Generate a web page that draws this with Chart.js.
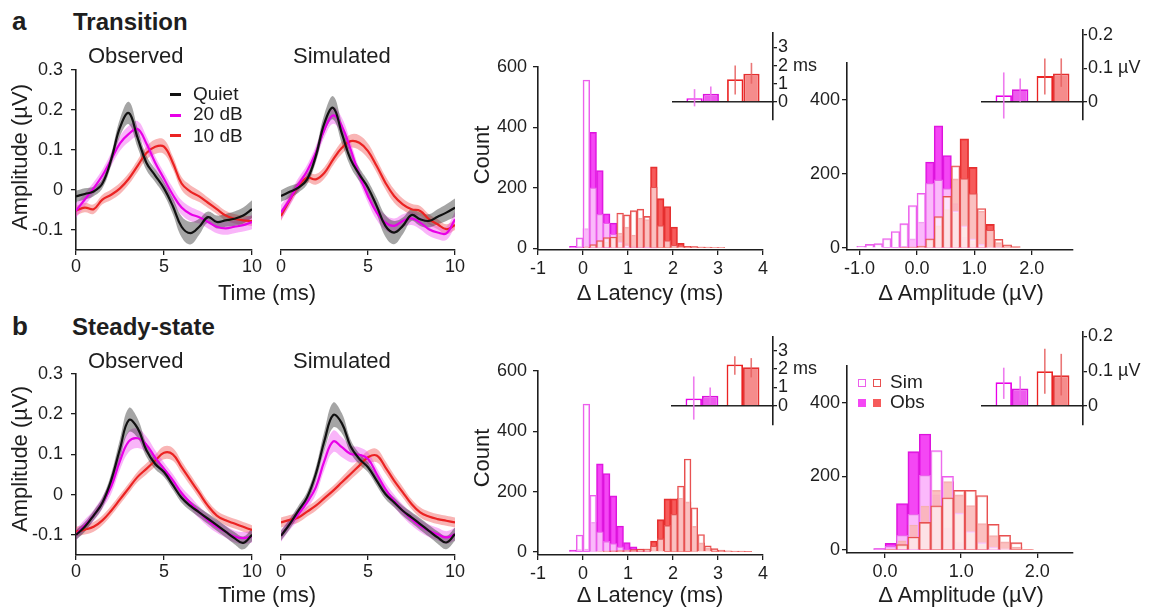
<!DOCTYPE html>
<html><head><meta charset="utf-8">
<script src="https://cdn.jsdelivr.net/npm/chart.js@4.4.1/dist/chart.umd.min.js"></script>
<style>
html,body{margin:0;padding:0;background:#fff;}
#fig{position:relative;width:1156px;height:610px;overflow:hidden;font-family:'Liberation Sans',Arial,sans-serif;color:#1e1e1e;}
#fig canvas{position:absolute;}
.t{position:absolute;white-space:nowrap;line-height:1;}
.bd{font-weight:bold;}
.c{transform:translateX(-50%);}
.rot{transform:translate(-50%,-50%) rotate(-90deg);}
.sw{position:absolute;box-sizing:border-box;}
</style></head><body><div id="fig"></div>
<script>
// ---------------- DATA ----------------
const time = [0,0.5,1,1.5,2,2.5,3,3.5,4,4.5,5,5.5,6,6.5,7,7.5,8,8.5,9,9.5,10];
const timeTicks = [0,5,10];
const ampTicks = [-0.1,0,0.1,0.2,0.3];

// Transition (a)
const obsQuietA = [-0.016,-0.010,-0.004,0.016,0.076,0.156,0.192,0.130,0.068,0.036,0.004,-0.040,-0.092,-0.108,-0.092,-0.068,-0.080,-0.076,-0.072,-0.064,-0.048];
const obs20A    = [-0.052,-0.024,0.004,0.036,0.076,0.116,0.140,0.152,0.116,0.068,0.028,-0.012,-0.044,-0.060,-0.068,-0.080,-0.092,-0.096,-0.092,-0.088,-0.080];
const obs10A    = [-0.052,-0.044,-0.048,-0.024,-0.012,0.004,0.028,0.060,0.092,0.108,0.108,0.068,0.016,-0.004,-0.016,-0.032,-0.048,-0.064,-0.072,-0.076,-0.078];
const simQuietA = [-0.020,-0.010,0.000,0.020,0.076,0.156,0.192,0.130,0.068,0.032,0.000,-0.044,-0.092,-0.108,-0.092,-0.066,-0.076,-0.080,-0.070,-0.060,-0.048];
const sim20A    = [-0.060,-0.028,0.008,0.040,0.084,0.140,0.174,0.148,0.092,0.030,-0.020,-0.060,-0.084,-0.092,-0.080,-0.074,-0.084,-0.100,-0.108,-0.110,-0.076];
const sim10A    = [-0.068,-0.030,0.004,0.024,0.020,0.036,0.068,0.096,0.112,0.108,0.088,0.052,0.012,-0.020,-0.040,-0.052,-0.056,-0.076,-0.088,-0.100,-0.090];
const seQuietA  = [0.014,0.014,0.012,0.012,0.015,0.022,0.028,0.024,0.018,0.016,0.016,0.020,0.026,0.028,0.020,0.014,0.016,0.016,0.018,0.020,0.022];
const se20A     = [0.018,0.016,0.015,0.015,0.016,0.018,0.020,0.020,0.018,0.016,0.016,0.018,0.018,0.018,0.016,0.016,0.016,0.016,0.016,0.016,0.018];
const se10A     = [0.012,0.012,0.012,0.012,0.013,0.014,0.014,0.015,0.016,0.018,0.018,0.016,0.016,0.016,0.014,0.013,0.012,0.012,0.012,0.012,0.012];

// Steady-state (b)
const obsQuietB = [-0.100,-0.080,-0.052,-0.020,0.036,0.114,0.185,0.165,0.110,0.076,0.056,0.024,-0.008,-0.028,-0.044,-0.060,-0.076,-0.092,-0.108,-0.120,-0.100];
const obs20B    = [-0.100,-0.076,-0.052,-0.020,0.020,0.084,0.132,0.140,0.124,0.092,0.064,0.036,0.004,-0.020,-0.044,-0.064,-0.080,-0.092,-0.104,-0.108,-0.104];
const obs10B    = [-0.092,-0.087,-0.080,-0.064,-0.040,-0.012,0.016,0.044,0.064,0.084,0.104,0.100,0.068,0.036,0.004,-0.028,-0.052,-0.064,-0.072,-0.080,-0.088];
const simQuietB = [-0.104,-0.076,-0.044,-0.012,0.044,0.124,0.185,0.165,0.110,0.080,0.060,0.028,-0.004,-0.024,-0.044,-0.060,-0.076,-0.092,-0.108,-0.120,-0.100];
const sim20B    = [-0.104,-0.076,-0.052,-0.024,0.012,0.076,0.122,0.108,0.092,0.090,0.080,0.044,0.008,-0.020,-0.044,-0.064,-0.080,-0.092,-0.100,-0.108,-0.100];
const sim10B    = [-0.072,-0.066,-0.060,-0.046,-0.032,-0.014,0.004,0.024,0.044,0.064,0.084,0.088,0.060,0.028,0.000,-0.028,-0.048,-0.058,-0.064,-0.068,-0.072];
const seQuietB  = [0.012,0.012,0.012,0.013,0.016,0.024,0.030,0.024,0.016,0.013,0.012,0.012,0.012,0.012,0.012,0.013,0.014,0.014,0.015,0.016,0.016];
const se20B     = [0.014,0.014,0.014,0.015,0.018,0.022,0.026,0.024,0.020,0.018,0.016,0.015,0.015,0.015,0.015,0.015,0.015,0.015,0.015,0.015,0.015];
const se10B     = [0.012,0.012,0.012,0.012,0.012,0.012,0.012,0.013,0.014,0.015,0.016,0.016,0.015,0.014,0.013,0.012,0.012,0.012,0.012,0.012,0.012];

// Latency histograms (bin centres, 0.15 ms bins)
const latBins = [-0.225,-0.075,0.075,0.225,0.375,0.525,0.675,0.825,0.975,1.125,1.275,1.425,1.575,1.725,1.875,2.025,2.175,2.325,2.475,2.625,2.775,2.925,3.075,3.225,3.375,3.525,3.675];
const latTicks = [-1,0,1,2,3,4];
const countTicksLat = [0,200,400,600];
const simMagLatA = [3,34,556,200,112,83,47,20,8,4,2,1,0,0,0,0,0,0,0,0,0,0,0,0,0,0,0];
const obsMagLatA = [6,5,65,383,257,114,83,40,15,8,4,2,1,0,0,0,0,0,0,0,0,0,0,0,0,0,0];
const simRedLatA = [0,0,3,12,25,35,37,116,110,124,129,105,202,75,25,10,5,5,4,4,4,3,3,0,0,0,0];
const obsRedLatA = [0,0,5,10,15,20,30,50,70,43,100,95,269,164,138,70,16,6,5,4,3,2,2,0,0,0,0];
const simMagLatB = [4,56,490,188,67,35,28,17,8,4,2,1,0,0,0,0,0,0,0,0,0,0,0,0,0,0,0];
const obsMagLatB = [6,8,10,98,292,260,186,86,31,17,10,4,0,0,0,0,0,0,0,0,0,0,0,0,0,0,0];
const simRedLatB = [0,0,0,0,2,3,4,5,5,6,8,10,20,44,88,125,218,308,146,58,20,11,6,4,3,3,2];
const obsRedLatB = [0,0,0,0,0,2,3,4,5,8,10,10,36,107,176,176,178,166,85,30,12,5,3,2,1,1,1];

// Amplitude histograms (0.15 µV bins)
const ampBinsA = [-0.975,-0.825,-0.675,-0.525,-0.375,-0.225,-0.075,0.075,0.225,0.375,0.525,0.675,0.825,0.975,1.125,1.275,1.425,1.575,1.725,1.875];
const ampBinsB = [-0.075,0.075,0.225,0.375,0.525,0.675,0.825,0.975,1.125,1.275,1.425,1.575,1.725,1.875];
const ampXTicksA = [-1,0,1,2];
const ampXTicksB = [0,1,2];
const countTicksAmp = [0,200,400];
const simMagAmpA = [5,10,12,26,45,66,115,148,175,184,161,100,60,25,10,3,1,0,0,0];
const obsMagAmpA = [0,0,0,1,2,5,25,70,232,330,250,120,30,10,3,0,0,0,0,0];
const simRedAmpA = [0,0,0,0,0,2,3,5,25,85,140,222,188,147,107,49,24,9,4,0];
const obsRedAmpA = [0,0,0,0,0,2,3,6,22,60,104,187,295,218,100,64,15,5,2,0];
const simMagAmpB = [2,10,40,97,203,270,200,100,50,20,8,3,0,0];
const obsMagAmpB = [4,18,126,267,315,150,60,20,5,2,0,0,0,0];
const simRedAmpB = [0,2,15,35,75,120,142,162,162,148,70,40,20,2];
const obsRedAmpB = [0,2,25,68,119,162,186,150,121,72,39,22,8,1];

// Insets: mean shift per condition [20 dB, 10 dB], with error ranges
const insetGroups = [1,2];          // 20 dB, 10 dB
const insetLatTicks = [0,1,2,3];
const insetAmpTicks = [0,0.1,0.2];
const latSimA = [0.20,1.25], latObsA = [0.45,1.55];
const latSimLoA = [-0.25,0.40], latSimHiA = [0.70,2.00];
const latObsLoA = [0.05,1.00],  latObsHiA = [0.85,2.15];
const ampSimA = [0.020,0.077], ampObsA = [0.038,0.085];
const ampSimLoA = [-0.050,0.022], ampSimHiA = [0.088,0.130];
const ampObsLoA = [0.000,0.045],  ampObsHiA = [0.070,0.130];
const latSimB = [0.40,2.25], latObsB = [0.55,2.10];
const latSimLoB = [-0.75,1.70], latSimHiB = [1.60,2.70];
const latObsLoB = [0.10,1.55],  latObsHiB = [1.00,2.60];
const ampSimB = [0.068,0.100], ampObsB = [0.050,0.088];
const ampSimLoB = [0.020,0.035], ampSimHiB = [0.110,0.165];
const ampObsLoB = [0.015,0.030], ampObsHiB = [0.085,0.150];

// ---------------- STYLE ----------------
const FONT = "'Liberation Sans', Arial, sans-serif";
const INK = '#1e1e1e';
const C = {
  black:'#111111', blackBand:'rgba(55,55,55,0.45)',
  mag:'rgb(232,0,232)', magBand:'rgba(240,70,240,0.40)',
  red:'rgb(235,35,35)', redBand:'rgba(238,60,60,0.38)',
  magObsFill:'rgba(242,45,242,0.88)', magObsLine:'rgb(220,20,220)',
  redObsFill:'rgba(244,62,62,0.85)', redObsLine:'rgb(228,48,48)',
  simFill:'rgba(255,255,255,0.62)', magSimLine:'rgb(236,95,236)', redSimLine:'rgb(232,80,80)',
  inMagFill:'rgb(238,90,238)', inRedFill:'rgb(245,140,140)',
  magErr:'rgba(236,110,236,0.9)', redErr:'rgba(230,95,95,0.85)'
};
Chart.defaults.font.family = FONT;
Chart.defaults.color = INK;
Chart.defaults.animation = false;

const fig = document.getElementById('fig');
const fixed = arr => s => { s.ticks = arr.map(v => ({value:v})); };

function mount(area, pad, ax) {
  const c = document.createElement('canvas');
  const left = area.l - (ax.left||0) - pad.left;
  const top = area.t - pad.top;
  const w = Math.round(area.r - area.l + (ax.left||0) + (ax.right||0) + pad.left + pad.right);
  const h = Math.round(area.b - area.t + (ax.bottom||0) + pad.top + pad.bottom);
  c.width = w; c.height = h;
  c.style.left = left + 'px'; c.style.top = top + 'px';
  c.style.width = w + 'px'; c.style.height = h + 'px';
  fig.appendChild(c);
  return c;
}
function gridOpt(len){ return {display:true, drawOnChartArea:false, drawTicks:true, tickLength:len, color:INK, lineWidth:1.3, offset:false}; }
const borderOpt = {display:true, color:INK, width:1.6};
const baseOpts = pad => ({responsive:false, animation:false, layout:{padding:pad},
  plugins:{legend:{display:false}, tooltip:{enabled:false}}});

function waveChart(area, showY, series) {
  const pad = {left: showY ? 0 : 12, right:18, top:12, bottom:0};
  const ax = {left: showY ? 76 : 0, bottom:40};
  const cv = mount(area, pad, ax);
  const ds = [];
  series.forEach(s => ds.push({data: time.map((t,i)=>({x:t,y:s.mean[i]})), borderColor:s.line, borderWidth:2.2,
    pointRadius:0, tension:0.4, fill:false}));
  series.forEach(s => {
    ds.push({data: time.map((t,i)=>({x:t,y:s.mean[i]+s.se[i]})), borderColor:'transparent', borderWidth:0,
      pointRadius:0, tension:0.4, fill:'+1', backgroundColor:s.band});
    ds.push({data: time.map((t,i)=>({x:t,y:s.mean[i]-s.se[i]})), borderColor:'transparent', borderWidth:0,
      pointRadius:0, tension:0.4, fill:false});
  });
  const o = baseOpts(pad);
  o.scales = {
    x:{type:'linear', min:0, max:10, afterBuildTicks:fixed(timeTicks), afterFit:s=>{s.height=ax.bottom;},
       grid:gridOpt(5), border:borderOpt, ticks:{font:{size:18}, color:INK, padding:1, maxRotation:0, callback:v=>String(v)}},
    y:{type:'linear', display:showY, min:-0.15, max:0.3, afterBuildTicks:fixed(ampTicks), afterFit:s=>{s.width=ax.left;},
       grid:gridOpt(5), border:borderOpt, ticks:{font:{size:18}, color:INK, padding:8, callback:v=> v===0 ? '0' : v.toFixed(1)}}
  };
  new Chart(cv, {type:'line', data:{datasets:ds}, options:o});
}

function histChart(area, bins, sm, om, sr, orr, xr, xTicks, xFmt, yr, yTicks, yPad) {
  const pad = {left:0, right:18, top:12, bottom:0};
  const ax = {left:60, bottom:40};
  const cv = mount(area, pad, ax);
  const mk = (vals, bg, bc) => ({data: bins.map((b,i)=>({x:b,y:vals[i]})), backgroundColor:bg, borderColor:bc,
    borderWidth:1.3, barPercentage:1, categoryPercentage:1, grouped:false});
  const ds = [mk(sr, C.simFill, C.redSimLine), mk(sm, C.simFill, C.magSimLine),
              mk(orr, C.redObsFill, C.redObsLine), mk(om, C.magObsFill, C.magObsLine)];
  const o = baseOpts(pad);
  o.scales = {
    x:{type:'linear', min:xr[0], max:xr[1], offset:false, afterBuildTicks:fixed(xTicks), afterFit:s=>{s.height=ax.bottom;},
       grid:gridOpt(5), border:borderOpt, ticks:{font:{size:18}, color:INK, padding:3, maxRotation:0, callback:xFmt}},
    y:{type:'linear', min:yr[0], max:yr[1], afterBuildTicks:fixed(yTicks), afterFit:s=>{s.width=ax.left;},
       grid:gridOpt(5), border:borderOpt, ticks:{font:{size:18}, color:INK, padding:yPad, callback:v=>String(v)}}
  };
  new Chart(cv, {type:'bar', data:{datasets:ds}, options:o});
}

const errPlugin = {
  id:'errbars',
  afterDatasetsDraw(chart) {
    const ctx = chart.ctx, ys = chart.scales.y;
    chart.data.datasets.forEach((d, i) => {
      if (!d.errLo) return;
      chart.getDatasetMeta(i).data.forEach((el, j) => {
        ctx.save();
        ctx.strokeStyle = d.errColor[j]; ctx.lineWidth = 1.6;
        ctx.beginPath();
        ctx.moveTo(el.x, ys.getPixelForValue(d.errLo[j]));
        ctx.lineTo(el.x, ys.getPixelForValue(d.errHi[j]));
        ctx.stroke(); ctx.restore();
      });
    });
  }
};

function insetChart(area, yr, yTicks, yFmt, sim, simLo, simHi, obs, obsLo, obsHi) {
  const pad = {left:4, right:4, top:12, bottom:4};
  const ax = {right:64};
  const cv = mount(area, pad, ax);
  const ds = [
    {data: insetGroups.map((g,i)=>({x:g,y:sim[i]})), backgroundColor:'#ffffff', borderColor:[C.mag, C.red],
     borderWidth:1.8, barPercentage:1, categoryPercentage:0.8, errLo:simLo, errHi:simHi, errColor:[C.magErr, C.redErr]},
    {data: insetGroups.map((g,i)=>({x:g,y:obs[i]})), backgroundColor:[C.inMagFill, C.inRedFill], borderColor:[C.magObsLine, C.redObsLine],
     borderWidth:1.8, barPercentage:1, categoryPercentage:0.8, errLo:obsLo, errHi:obsHi, errColor:[C.magErr, C.redErr]}
  ];
  const o = baseOpts(pad);
  o.scales = {
    x:{type:'linear', min:0.27, max:2.73, offset:false, position:{y:0}, afterBuildTicks:fixed(insetGroups),
       ticks:{display:false}, grid:{display:false, offset:false}, border:{display:true, color:INK, width:1.6}},
    y:{type:'linear', position:'right', min:yr[0], max:yr[1], afterBuildTicks:fixed(yTicks), afterFit:s=>{s.width=ax.right;},
       grid:gridOpt(4), border:borderOpt, ticks:{font:{size:18}, color:INK, padding:1, callback:yFmt}}
  };
  new Chart(cv, {type:'bar', data:{datasets:ds}, options:o, plugins:[errPlugin]});
}

// ---------------- BUILD ----------------
const ser = (q, m20, m10, sq, s20, s10) => [
  {mean:q, se:sq, line:C.black, band:C.blackBand},
  {mean:m20, se:s20, line:C.mag, band:C.magBand},
  {mean:m10, se:s10, line:C.red, band:C.redBand}];

waveChart({l:76, t:63, r:252, b:250}, true,  ser(obsQuietA, obs20A, obs10A, seQuietA, se20A, se10A));
waveChart({l:281, t:63, r:455, b:250}, false, ser(simQuietA, sim20A, sim10A, seQuietA, se20A, se10A));
waveChart({l:76, t:367, r:252, b:555}, true,  ser(obsQuietB, obs20B, obs10B, seQuietB, se20B, se10B));
waveChart({l:281, t:367, r:455, b:555}, false, ser(simQuietB, sim20B, sim10B, seQuietB, se20B, se10B));

const intFmt = v => String(v);
const oneDec = v => v.toFixed(1);
histChart({l:538, t:62, r:763, b:250}, latBins, simMagLatA, obsMagLatA, simRedLatA, obsRedLatA, [-1,4], latTicks, intFmt, [-6,600], countTicksLat, 6);
histChart({l:538, t:366, r:763, b:555}, latBins, simMagLatB, obsMagLatB, simRedLatB, obsRedLatB, [-1,4], latTicks, intFmt, [-10,600], countTicksLat, 6);
histChart({l:847, t:62, r:1073, b:250}, ampBinsA, simMagAmpA, obsMagAmpA, simRedAmpA, obsRedAmpA, [-1.22,2.72], ampXTicksA, oneDec, [-5,500], countTicksAmp, 2);
histChart({l:847, t:365, r:1073, b:553}, ampBinsB, simMagAmpB, obsMagAmpB, simRedAmpB, obsRedAmpB, [-0.5,2.47], ampXTicksB, oneDec, [-8,500], countTicksAmp, 2);

const latFmt = v => v === 2 ? '2 ms' : String(v);
const ampFmt = v => v === 0 ? '0' : (Math.abs(v-0.1) < 1e-9 ? '0.1 µV' : v.toFixed(1));
insetChart({l:673, t:33, r:773, b:127}, [-0.96,3.8], insetLatTicks, latFmt, latSimA, latSimLoA, latSimHiA, latObsA, latObsLoA, latObsHiA);
insetChart({l:982, t:30, r:1083, b:127}, [-0.052,0.215], insetAmpTicks, ampFmt, ampSimA, ampSimLoA, ampSimHiA, ampObsA, ampObsLoA, ampObsHiA);
insetChart({l:672, t:337, r:773, b:432}, [-1.0,3.75], insetLatTicks, latFmt, latSimB, latSimLoB, latSimHiB, latObsB, latObsLoB, latObsHiB);
insetChart({l:982, t:332, r:1083, b:432}, [-0.053,0.213], insetAmpTicks, ampFmt, ampSimB, ampSimLoB, ampSimHiB, ampObsB, ampObsLoB, ampObsHiB);

// ---------------- TEXT ----------------
function txt(s, x, y, size, cls, color) {
  const d = document.createElement('div');
  d.className = 't ' + (cls||'');
  d.textContent = s;
  d.style.left = x + 'px'; d.style.top = y + 'px'; d.style.fontSize = size + 'px';
  if (color) d.style.color = color;
  fig.appendChild(d);
}
function sw(x, y, w, h, fill, border) {
  const d = document.createElement('div');
  d.className = 'sw';
  d.style.cssText += `left:${x}px;top:${y}px;width:${w}px;height:${h}px;background:${fill};` + (border ? `border:1.5px solid ${border};` : '');
  fig.appendChild(d);
}
txt('a', 12, 8, 26, 'bd');
txt('Transition', 73, 10, 24, 'bd');
txt('b', 12, 313, 26, 'bd');
txt('Steady-state', 72, 315, 24, 'bd');
[45, 350].forEach(y => {
  txt('Observed', 88, y, 22);
  txt('Simulated', 293, y, 22);
});
[[282, 157, 155], [584, 459, 458]].forEach(([ty, ay, cy]) => {
  txt('Time (ms)', 267, ty, 22, 'c');
  txt('Δ Latency (ms)', 650, ty, 22, 'c');
  txt('Δ Amplitude (µV)', 961, ty, 22, 'c');
  txt('Amplitude (µV)', 20, ay, 22, 'rot');
  txt('Count', 482, cy, 22, 'rot');
});
// waveform legend
sw(170, 93, 11, 2.5, C.black); txt('Quiet', 193, 84, 19);
sw(170, 114, 11, 2.5, C.mag);  txt('20 dB', 193, 104, 19);
sw(170, 134, 11, 2.5, C.red);  txt('10 dB', 193, 126, 19);
// Sim / Obs legend
sw(858, 379, 8, 8, '#fff', C.magSimLine); sw(873, 379, 8, 8, '#fff', C.redSimLine); txt('Sim', 890, 372, 19);
sw(858, 399, 8, 8, C.magObsFill); sw(873, 399, 8, 8, C.redObsFill); txt('Obs', 890, 392, 19);
</script></body></html>
